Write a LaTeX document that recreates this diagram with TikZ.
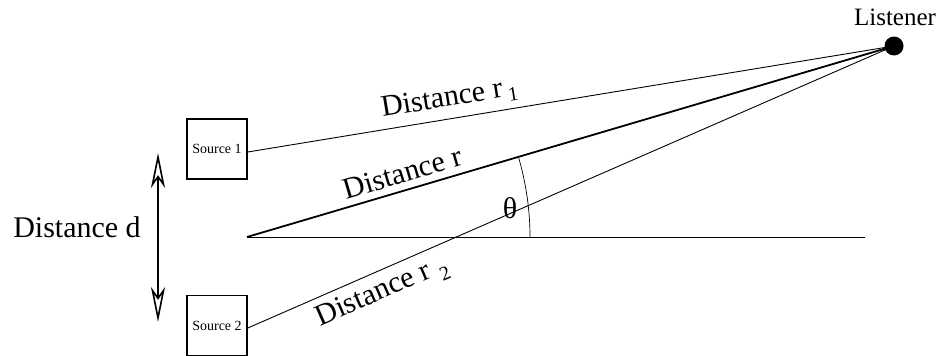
\documentclass[tikz,border=0pt]{standalone}
\usepackage{fontspec}
\setmainfont{Liberation Serif}
\usetikzlibrary{arrows.meta}

\begin{document}
\begin{tikzpicture}[x=1pt, y=-1pt, >=Stealth,
    srcbox/.style={draw, line width=1.6pt, minimum size=60pt, inner sep=0pt,
      font=\fontsize{14}{16}\selectfont},
    ray/.style={line width=0.9pt},
    lbl/.style={font=\fontsize{30}{36}\selectfont, outer sep=0pt}]

  \useasboundingbox (0,0) rectangle (937,356);

  % --- the two sources ---
  \node[srcbox] (src1) at (217,149) {Source 1};
  \node[srcbox] (src2) at (217,325.5) {Source 2};

  % --- listener ---
  \node[circle, fill, minimum size=19pt, inner sep=0pt] (lis) at (894,46) {};
  \node[font=\fontsize{25}{30}\selectfont, anchor=base] (lisname) at (895,25)
    {Listener};

  % --- mid point and axis ---
  \coordinate (mid) at (247,237);
  \coordinate (axisend) at (865,237);
  \draw[ray] (mid) -- (axisend);

  % --- distances to the listener ---
  \draw[line width=1.8pt] (mid) -- (lis.center)
    node[lbl, sloped, above, inner sep=7.2pt, pos=0.248] (rlbl) {Distance r};
  \draw[ray] ([yshift=-3pt]src1.east) -- (lis.center)
    node[lbl, sloped, above, inner sep=7.7pt, pos=0.317] (r1lbl)
    {Distance r\kern5pt\raisebox{-5pt}{\fontsize{20}{24}\selectfont 1}};
  \draw[ray] ([yshift=-2.5pt]src2.east) -- (lis.center)
    node[lbl, sloped, below, inner sep=7.5pt, pos=0.195] (r2lbl)
    {Distance r\kern8pt\raisebox{-8pt}{\fontsize{20}{24}\selectfont 2}};

  % --- angle ---
  \draw[line width=0.7pt] (530,237) arc[start angle=0, end angle=-16.45, radius=283];
  \node[lbl] (theta) at (510,208) {θ};

  % --- source spacing ---
  \coordinate (dtop) at (158,153);
  \coordinate (dbot) at (158,322);
  \draw[line width=1.6pt,
    {Stealth[open, length=35pt, width=14pt, inset=10pt]}-{Stealth[open, length=35pt, width=14pt, inset=10pt]}]
    (dtop) -- (dbot);
  \node[lbl, anchor=base] (dlbl) at (77,237) {Distance d};

\end{tikzpicture}
\end{document}
